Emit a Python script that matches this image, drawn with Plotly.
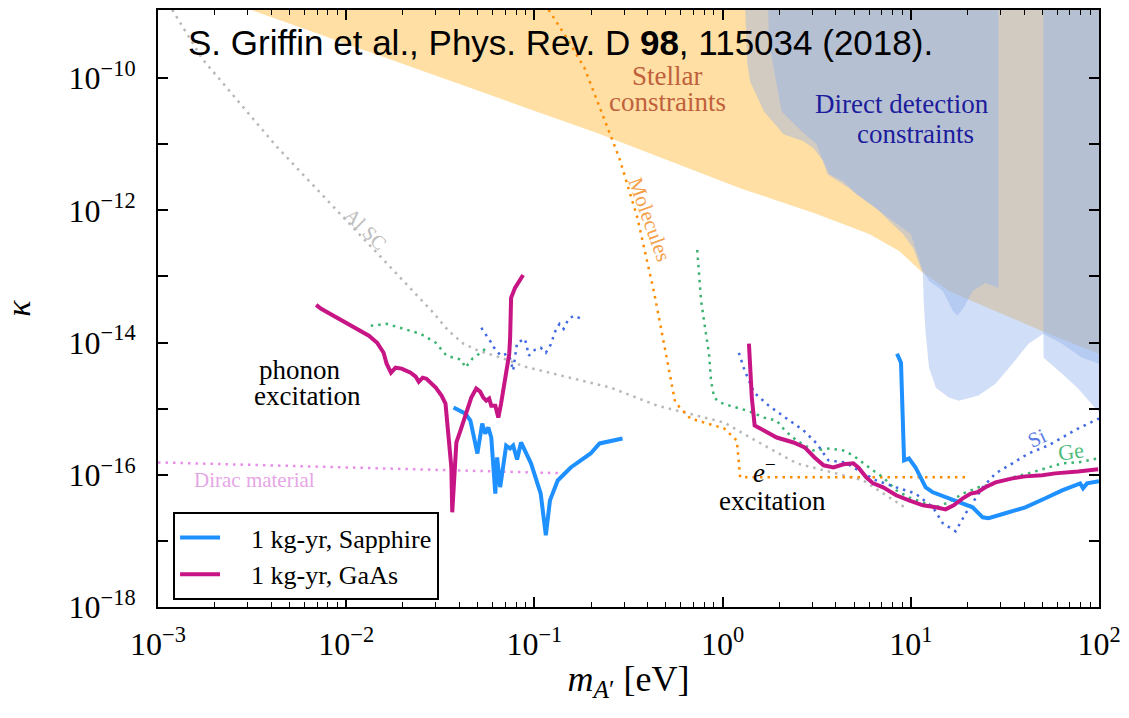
import numpy as np
import plotly.graph_objects as go

# ---------------- data (x: m_A' in eV, y: kappa) ----------------
sapphire_ph_x = [0.0372, 0.0430, 0.0457, 0.0498, 0.0528, 0.0548, 0.0569, 0.0590, 0.0620, 0.0634, 0.0658,
                 0.0708, 0.0743, 0.0771, 0.0809, 0.0849, 0.0959, 0.108, 0.115, 0.121, 0.133, 0.156, 0.199, 0.222, 0.294]
sapphire_ph_y = [1.04e-15, 8.4e-16, 6.6e-16, 2.1e-16, 5.96e-16, 4.2e-16, 5.2e-16, 3.66e-16, 5.2e-17, 1.83e-16, 6.5e-17,
                 2.77e-16, 2.5e-16, 2.77e-16, 1.7e-16, 3.08e-16, 1.49e-16, 5.2e-17, 1.22e-17, 4.1e-17, 8.2e-17, 1.29e-16, 2.1e-16, 2.98e-16, 3.54e-16]
sapphire_el_x = [8.45, 8.87, 9.21, 9.78, 10.6, 12.0, 13.1, 15.9, 18.9, 21.3, 24.1, 25.9, 31.8, 40.6, 51.9, 63.7, 79.4, 82.3, 86.4, 95.3, 100]
sapphire_el_y = [6.78e-15, 4.95e-15, 1.65e-16, 1.77e-16, 1.29e-16, 6.46e-17, 5.43e-17, 4.41e-17, 3.71e-17, 3.22e-17, 2.27e-17,
                 2.2e-17, 2.62e-17, 3.22e-17, 4.41e-17, 5.82e-17, 7.41e-17, 6.24e-17, 7.41e-17, 7.94e-17, 8.0e-17]

gaas_ph_x = [0.00692, 0.00736, 0.0132, 0.0146, 0.0158, 0.0164, 0.0173, 0.0183, 0.0197, 0.0220, 0.0234, 0.0243, 0.0255,
             0.0267, 0.0299, 0.0321, 0.0337, 0.0349, 0.0362, 0.0366, 0.0376, 0.0385, 0.0405, 0.0430, 0.0462, 0.0491,
             0.0515, 0.0535, 0.0555, 0.0575, 0.0590, 0.0620, 0.0643, 0.0665, 0.0700, 0.0716, 0.0735, 0.0743, 0.0752, 0.0789, 0.0871]
gaas_ph_y = [3.72e-14, 3.24e-14, 1.27e-14, 9.93e-15, 7.0e-15, 4.79e-15, 3.5e-15, 4.17e-15, 4.03e-15, 3.5e-15, 3.05e-15,
             2.56e-15, 2.94e-15, 2.84e-15, 2.08e-15, 1.58e-15, 1.19e-15, 4.2e-16, 1.29e-16, 2.71e-17, 1.29e-16, 3.08e-16,
             4.68e-16, 7.87e-16, 1.47e-15, 2.01e-15, 1.81e-15, 1.47e-15, 1.32e-15, 1.42e-15, 1.11e-15, 1.11e-15, 7.35e-16,
             1.19e-15, 2.65e-15, 4.17e-15, 6.78e-15, 1.18e-14, 4.74e-14, 6.71e-14, 1.05e-13]
gaas_el_x = [1.38, 1.40, 1.43, 1.48, 1.66, 1.94, 2.38, 2.73, 3.08, 3.44, 3.88, 4.39, 4.95, 5.26, 5.80, 6.31, 7.13, 8.36,
             9.78, 11.6, 13.6, 15.3, 16.9, 18.9, 20.8, 22.6, 24.9, 28.2, 34.7, 40.6, 50.0, 58.5, 77.4, 99.0]
gaas_el_y = [9.6e-15, 4.79e-15, 1.47e-15, 5.56e-16, 4.68e-16, 3.66e-16, 3.08e-16, 2.59e-16, 1.83e-16, 1.39e-16, 1.29e-16,
             1.44e-16, 1.49e-16, 1.29e-16, 9.15e-17, 7.41e-17, 6.46e-17, 4.89e-17, 4.1e-17, 3.45e-17, 3.22e-17, 3.0e-17,
             3.45e-17, 4.41e-17, 5.2e-17, 5.43e-17, 6.46e-17, 7.67e-17, 8.83e-17, 9.46e-17, 9.8e-17, 1.05e-16, 1.12e-16, 1.21e-16]

si_ph_x = [0.0522, 0.0555, 0.0590, 0.0620, 0.0665, 0.0716, 0.0743, 0.0771, 0.0809, 0.0891, 0.0935, 0.1007, 0.108,
           0.115, 0.122, 0.130, 0.136, 0.143, 0.152, 0.162, 0.172, 0.183]
si_ph_y = [1.67e-14, 1.31e-14, 9.93e-15, 7.78e-15, 6.32e-15, 6.78e-15, 5.7e-15, 3.76e-15, 9.93e-15, 1.14e-14, 6.32e-15,
           7.78e-15, 8.36e-15, 7.0e-15, 9.27e-15, 1.56e-14, 1.92e-14, 1.61e-14, 2.29e-14, 2.54e-14, 2.37e-14, 2.21e-14]
si_el_x = [1.22, 1.31, 1.47, 1.76, 2.19, 2.69, 3.16, 3.65, 4.44, 5.32, 6.55, 8.36, 10.6, 13.1, 14.8, 17.3, 19.6, 24.1,
           28.2, 34.7, 42.2, 53.7, 63.7, 77.4, 100]
si_el_y = [7.0e-15, 3.76e-15, 1.75e-15, 1.11e-15, 7.1e-16, 4.68e-16, 2.98e-16, 1.65e-16, 1.54e-16, 1.16e-16, 8.24e-17,
           6.46e-17, 5.2e-17, 3.22e-17, 1.85e-17, 1.40e-17, 2.62e-17, 6.46e-17, 1.05e-16, 1.49e-16, 2.1e-16, 2.77e-16,
           3.66e-16, 5.01e-16, 7.1e-16]

ge_ph_x = [0.0135, 0.0164, 0.0202, 0.0248, 0.0299, 0.0341, 0.0409, 0.0430, 0.0468, 0.0528, 0.0569]
ge_ph_y = [1.79e-14, 1.92e-14, 1.61e-14, 1.36e-14, 9.93e-15, 6.32e-15, 5.51e-15, 4.17e-15, 5.7e-15, 7.26e-15, 8.96e-15]
ge_el_x = [0.733, 0.769, 0.807, 0.847, 0.868, 0.902, 0.968, 1.09, 1.35, 1.66, 1.94, 2.14, 2.47, 3.04, 3.70, 4.39, 4.95,
           5.58, 6.31, 7.13, 8.36, 9.78, 12.0, 13.6, 15.9, 18.9, 22.9, 28.2, 34.7, 42.2, 51.9, 63.7, 77.4, 99.0]
ge_el_y = [2.51e-13, 4.26e-14, 1.67e-14, 6.78e-15, 2.65e-15, 1.47e-15, 1.24e-15, 1.11e-15, 9.35e-16, 7.35e-16, 6.6e-16,
           4.68e-16, 3.3e-16, 2.33e-16, 2.5e-16, 2.33e-16, 1.96e-16, 1.49e-16, 1.16e-16, 9.14e-17, 5.82e-17, 4.56e-17,
           3.71e-17, 3.22e-17, 3.84e-17, 5.2e-17, 6.46e-17, 7.41e-17, 9.14e-17, 1.05e-16, 1.25e-16, 1.49e-16, 1.54e-16, 1.77e-16]

molecules_x = [0.119, 0.147, 0.185, 0.225, 0.283, 0.353, 0.434, 0.508, 0.560, 0.673, 1.02, 1.19, 1.24, 20.3]
molecules_y = [1.08e-9, 4.24e-10, 1.40e-10, 3.36e-11, 6.12e-12, 7.62e-13, 5.45e-14, 5.31e-15, 1.24e-15, 7.1e-16,
               5.01e-16, 3.3e-16, 9.14e-17, 9.14e-17]

alsc_x = [1.19e-3, 1.73e-3, 4.26e-3, 0.0113, 0.0291, 0.0349, 0.0420, 0.0504, 0.0665, 0.0891, 0.138, 0.254, 0.450,
          1.02, 1.40, 2.47, 5.58, 9.44]
alsc_y = [1.08e-9, 1.91e-10, 9.29e-12, 4.85e-13, 2.81e-14, 1.51e-14, 9.6e-15, 7.52e-15, 5.9e-15, 4.31e-15, 3.15e-15,
          2.08e-15, 1.11e-15, 6.17e-16, 3.66e-16, 1.49e-16, 8.24e-17, 3.11e-17]

dirac_x = [1.0e-3, 0.0117, 0.151]
dirac_y = [1.54e-16, 1.29e-16, 1.05e-16]

# excluded regions (closed outlines)
stellar_x = [3.06e-3, 0.217, 1.24, 3.16, 6.01, 8.67, 11.3, 15.9, 53.7, 100, 100, 3.06e-3]
stellar_y = [1.1e-9, 1.46e-11, 2.16e-12, 8.77e-13, 4.38e-13, 2.43e-13, 1.21e-13, 6.04e-14, 1.36e-14, 6.78e-15, 1e-8, 1e-8]

dd1_x = [1.31, 1.35, 1.40, 1.66, 2.11, 2.69, 3.04, 3.44, 3.70, 4.39, 5.13, 6.55, 7.67, 9.10, 10.3, 11.6, 11.7, 12.0,
         12.5, 13.6, 15.9, 18.0, 22.9, 28.2, 34.7, 42.2, 50.6, 50.8, 63.7, 77.4, 100, 100, 1.31]
dd1_y = [2e-9, 1.78e-10, 8.9e-11, 3.13e-11, 1.41e-11, 1.11e-11, 8.67e-12, 5.52e-12, 3.52e-12, 2.75e-12, 1.75e-12,
         1.08e-12, 6.87e-13, 4.38e-13, 2.69e-13, 1.09e-13, 4.26e-14, 1.36e-14, 4.17e-15, 2.08e-15, 1.47e-15, 1.32e-15,
         1.58e-15, 2.39e-15, 4.79e-15, 9.6e-15, 1.36e-14, 5.9e-15, 3.38e-15, 2.01e-15, 8.73e-16, 1e-8, 1e-8]
dd2_x = [1.72, 1.76, 2.06, 2.63, 3.16, 3.61, 4.71, 6.47, 10.0, 11.6, 12.5, 14.8, 16.7, 17.7, 19.1, 21.3, 24.9, 29.2, 29.2]
dd2_y = [1e-8, 3.56e-10, 3.13e-11, 1.57e-11, 9.95e-12, 3.52e-12, 2.16e-12, 1.08e-12, 4.38e-13, 1.21e-13, 8.55e-14,
         6.04e-14, 3.02e-14, 2.54e-14, 3.35e-14, 6.04e-14, 7.98e-14, 6.71e-14, 1e-8]
dd3_x = [50.6, 50.6, 63.7, 81.3, 100, 100]
dd3_y = [1e-8, 1.36e-14, 9.6e-15, 5.9e-15, 4.79e-15, 1e-8]

x_tick_vals = [1e-3, 1e-2, 1e-1, 1e0, 1e1, 1e2]
x_tick_text = ['10<sup>−3</sup>', '10<sup>−2</sup>', '10<sup>−1</sup>', '10<sup>0</sup>', '10<sup>1</sup>', '10<sup>2</sup>']
y_tick_vals = [1e-18, 1e-17, 1e-16, 1e-15, 1e-14, 1e-13, 1e-12, 1e-11, 1e-10]
y_tick_text = ['10<sup>−18</sup>', '', '10<sup>−16</sup>', '', '10<sup>−14</sup>', '', '10<sup>−12</sup>', '',
               '10<sup>−10</sup>']
x_minor_vals = [m * 10.0 ** e for e in range(-3, 2) for m in range(2, 10)]

# ---------------- styles ----------------
SERIF = 'Liberation Serif'
C_SAPPH = '#1E90FF'
C_GAAS = '#C71585'
C_SI = '#4169E1'
C_GE = '#3CB371'
C_MOL = '#FF8C00'
C_AL = '#B8B8B8'
C_DIRAC = '#E88EE8'
FILL_STELLAR = 'rgba(255,165,0,0.36)'
FILL_DD = 'rgba(145,176,236,0.42)'
DOT = '2.5px,5px'

fig = go.Figure()


def region(x, y, color):
    fig.add_trace(go.Scatter(x=x, y=y, mode='lines', fill='toself', fillcolor=color,
                             line=dict(width=0), hoverinfo='skip', showlegend=False))


def dotted(x, y, color):
    fig.add_trace(go.Scatter(x=x, y=y, mode='lines', line=dict(color=color, width=2.5, dash=DOT),
                             hoverinfo='skip', showlegend=False))


region(stellar_x, stellar_y, FILL_STELLAR)
region(dd1_x, dd1_y, FILL_DD)
region(dd2_x, dd2_y, FILL_DD)
region(dd3_x, dd3_y, FILL_DD)

dotted(alsc_x, alsc_y, C_AL)
dotted(dirac_x, dirac_y, C_DIRAC)
dotted(molecules_x, molecules_y, C_MOL)
dotted(ge_ph_x, ge_ph_y, C_GE)
dotted(ge_el_x, ge_el_y, C_GE)
dotted(si_ph_x, si_ph_y, C_SI)
dotted(si_el_x, si_el_y, C_SI)

fig.add_trace(go.Scatter(x=sapphire_ph_x, y=sapphire_ph_y, mode='lines', name='\u2002\u20021 kg-yr, Sapphire',
                         legendgroup='s', line=dict(color=C_SAPPH, width=4)))
fig.add_trace(go.Scatter(x=sapphire_el_x, y=sapphire_el_y, mode='lines', legendgroup='s', showlegend=False,
                         line=dict(color=C_SAPPH, width=4)))
fig.add_trace(go.Scatter(x=gaas_ph_x, y=gaas_ph_y, mode='lines', name='\u2002\u20021 kg-yr, GaAs',
                         legendgroup='g', line=dict(color=C_GAAS, width=4)))
fig.add_trace(go.Scatter(x=gaas_el_x, y=gaas_el_y, mode='lines', legendgroup='g', showlegend=False,
                         line=dict(color=C_GAAS, width=4)))


def label(text, x, y, color='black', size=27, angle=0, family=SERIF):
    fig.add_annotation(x=np.log10(x), y=np.log10(y), xref='x', yref='y', text=text, showarrow=False,
                       textangle=angle, font=dict(family=family, size=size, color=color),
                       xanchor='center', yanchor='middle')


label('Stellar', 0.508, 1.09e-10, '#C0603C')
label('constraints', 0.508, 4.29e-11, '#C0603C')
label('Direct detection', 8.97, 4.0e-11, '#1C1C9C')
label('constraints', 10.6, 1.41e-11, '#1C1C9C')
label('phonon', 5.70e-3, 3.89e-15)
label('excitation', 6.21e-3, 1.58e-15)
label('<i>e</i><sup>−</sup>', 1.66, 1.16e-16)
label('excitation', 1.85, 3.97e-17)
label('Al SC', 0.0127, 5.2e-13, '#BDBDBD', 20, 45)
label('Molecules', 0.408, 7.36e-13, '#F5A04C', 21, 70)
label('Si', 47.0, 3.66e-16, '#5B7BE3', 21, -25)
label('Ge', 71.1, 2.25e-16, '#52BC7C', 22, -8)
label('Dirac material', 3.26e-3, 8.22e-17, '#E6A6E6', 21)

fig.add_annotation(x=0.0296, y=0.945, xref='paper', yref='paper', xanchor='left', yanchor='middle',
                   showarrow=False, text='S. Griffin et al., Phys. Rev. D <b>98</b>, 115034 (2018).',
                   font=dict(family='Liberation Sans', size=35, color='black'))

axis_common = dict(type='log', showline=True, linecolor='black', linewidth=2, mirror='allticks',
                   ticks='inside', ticklen=10, tickwidth=1.5, tickcolor='black', showgrid=False,
                   zeroline=False, tickmode='array', tickfont=dict(family=SERIF, size=32, color='black'))

fig.update_layout(
    width=1129, height=718,
    margin=dict(l=158, r=25, t=8, b=111),
    paper_bgcolor='white', plot_bgcolor='white',
    font=dict(family=SERIF, size=26, color='black'),
    xaxis=dict(axis_common, range=[-3, 2], tickvals=x_tick_vals, ticktext=x_tick_text,
               ticklabelstandoff=8,
               minor=dict(ticks='inside', ticklen=5, tickwidth=1.2, tickcolor='black', tickvals=x_minor_vals,
                          showgrid=False),
               title=dict(text='<i>m</i><sub><i>A</i>′</sub> [eV]', font=dict(family=SERIF, size=36),
                          standoff=4)),
    yaxis=dict(axis_common, range=[-18, -8.97], tickvals=y_tick_vals, ticktext=y_tick_text,
               ticklabelstandoff=14,
               title=dict(text='<i>κ</i>', font=dict(family=SERIF, size=34), standoff=30)),
    legend=dict(x=0.016, y=0.159, xanchor='left', yanchor='top', bgcolor='white', bordercolor='black',
                borderwidth=2, font=dict(family=SERIF, size=26, color='black'), itemwidth=40,
                tracegroupgap=0),
    showlegend=True,
)

fig.write_html('out.html')
